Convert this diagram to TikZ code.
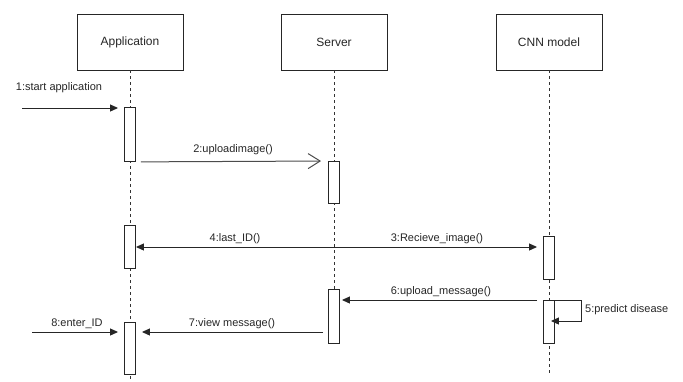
\documentclass[tikz,border=0pt]{standalone}
\usepackage{fontspec}
\setmainfont{Liberation Sans}
\usetikzlibrary{arrows.meta}
\begin{document}
\begin{tikzpicture}[x=1pt,y=-1pt,
 obj/.style={draw=black!85, line width=0.9pt, minimum width=106pt, minimum height=56pt, inner sep=0pt, font=\fontsize{12}{14}\selectfont, text=black!85},
 act/.style={draw=black!85, fill=white, line width=0.9pt, minimum width=11pt, inner sep=0pt, anchor=north},
 life/.style={draw=black!80, line width=0.7pt, dash pattern=on 3pt off 3pt},
 msg/.style={draw=black!85, line width=1pt, -{Triangle[length=8pt,width=7pt]}},
 openmsg/.style={draw=black!70, line width=1pt, -{Straight Barb[length=12pt,width=15pt]}},
 lbl/.style={font=\fontsize{11}{13}\selectfont, inner sep=0pt, text=black!85}]
\useasboundingbox (0,0) rectangle (683,381);
% objects
\node[obj] (app) at (130,42) {Application};
\node[obj] (srv) at (334,42) {Server};
\node[obj] (cnn) at (549,42) {CNN model};
% lifeline ends
\coordinate (append) at (130,381);
\coordinate (cnnend) at (549,373);
\coordinate (srvend) at (334,343);
\draw[life] (app.south) -- (append);
\draw[life] (srv.south) -- (srvend);
\draw[life] (cnn.south) -- (cnnend);
% activations
\node[act, minimum height=54pt] (a1) at (130,107) {};
\node[act, minimum height=42pt] (s1) at (334,161) {};
\node[act, minimum height=43pt] (a2) at (130,225) {};
\node[act, minimum height=43pt] (c1) at (549,236) {};
\node[act, minimum height=54pt] (s2) at (334,289) {};
\node[act, minimum height=43pt] (c2) at (549,300) {};
\node[act, minimum height=52pt] (a3) at (130,322) {};
% message 1
\coordinate (m1s) at (22,108);
\draw[msg, shorten >=6pt] (m1s) -- (m1s -| a1.west);
\node[lbl] (l1) at (59,88) {1:start application};
% message 2
\draw[openmsg, shorten <=5pt, shorten >=7pt] (a1.south east) -- (s1.north west);
\node[lbl] (l2) at (233,150) {2:uploadimage()};
% messages 3 and 4
\coordinate (m34) at (334,247);
\draw[msg] (m34) -- (a2.east |- m34);
\draw[msg, shorten >=6pt] (m34) -- (c1.west |- m34);
\node[lbl] (l4) at (235,239) {4:last\_ID()};
\node[lbl] (l3) at (437,239) {3:Recieve\_image()};
% message 6
\draw[msg, shorten <=6pt, shorten >=2pt] (c2.north west) -- (s2.east |- c2.north west);
\node[lbl] (l6) at (441,292) {6:upload\_message()};
% message 5 (self)
\draw[msg] (c2.north east) -- ++(27,0) -- ++(0,21) -- ++(-31,0);
\node[lbl, anchor=west] (l5) at (585,310) {5:predict disease};
% message 7
\coordinate (m7y) at (0,332);
\draw[msg, shorten <=5pt, shorten >=6pt] (s2.west |- m7y) -- (a3.east |- m7y);
\node[lbl] (l7) at (232,324) {7:view message()};
% message 8
\coordinate (m8s) at (32,332);
\draw[msg, shorten >=6pt] (m8s) -- (a3.west |- m8s);
\node[lbl] (l8) at (77,324) {8:enter\_ID};
\end{tikzpicture}
\end{document}
